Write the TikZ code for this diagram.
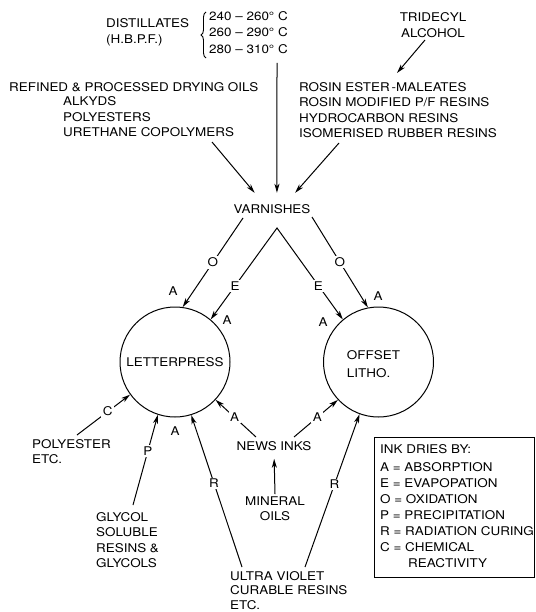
\documentclass[tikz,border=0pt]{standalone}
\usepackage{fontspec}
\setmainfont[FakeStretch=1.12]{TeX Gyre Heros}
\usetikzlibrary{arrows.meta,decorations.pathreplacing}

\begin{document}
\begin{tikzpicture}[x=1pt,y=-1pt,
  every node/.style={font=\fontsize{12}{15.5}\selectfont, inner sep=2pt},
  txt/.style={align=left, anchor=west},
  ctxt/.style={align=center},
  arr/.style={line width=1pt, -{Stealth[length=9pt,width=5pt,inset=2.5pt]}},
  twoarr/.style={line width=1pt, line join=miter, {Stealth[length=9pt,width=5pt,inset=2.5pt]}-{Stealth[length=9pt,width=5pt,inset=2.5pt]}},
  onl/.style={fill=white, inner sep=1.5pt},
  press/.style={circle, draw, line width=1pt, minimum size=110pt, inner sep=0pt},
  tag/.style={inner sep=0pt},
]
\useasboundingbox (0,0) rectangle (535,612);

% --- raw materials at the top
\node[txt] (dist) at (104,32.5) {DISTILLATES\\(H.B.P.F.)};
\draw[decorate, decoration={brace, amplitude=5pt}, line width=0.9pt] (206,58) -- (206,12);
\node[txt, font=\fontsize{12}{16.5}\selectfont] (temps) at (207,32.5)
  {240 – 260° C\\260 – 290° C\\280 – 310° C};
\node[ctxt, font=\fontsize{12}{16}\selectfont] (tri) at (433,25) {TRIDECYL\\ALCOHOL};
\node[txt] (oils) at (7,87) {REFINED \& PROCESSED DRYING OILS};
\node[txt] (alk) at (61,117) {ALKYDS\\POLYESTERS\\URETHANE COPOLYMERS};
\node[txt] (rosin) at (297,110) {ROSIN ESTER\,-MALEATES\\ROSIN MODIFIED P/F RESINS\\HYDROCARBON RESINS\\ISOMERISED RUBBER RESINS};

% --- varnishes and the two printing processes
\node[ctxt, minimum height=32pt] (varn) at (272,209) {VARNISHES};
\node[press] (lp) at (175,362) {LETTERPRESS};
\node[press] (ol) at (378.5,362) {};
\node[align=left, font=\fontsize{12}{18}\selectfont] (oltxt) at (373.5,364) {OFFSET\\LITHO.};

% --- sources below the circles
\node[txt] (poly) at (30,451.5) {POLYESTER\\ETC.};
\node[txt] (glycol) at (94,540) {GLYCOL\\SOLUBLE\\RESINS \&\\GLYCOLS};
\node[ctxt] (news) at (274,446) {NEWS INKS};
\node[ctxt] (min) at (275,508.5) {MINERAL\\OILS};
\node[txt, font=\fontsize{12}{14.5}\selectfont] (uv) at (228,590.5) {ULTRA VIOLET\\CURABLE RESINS\\ETC.};

% --- key
\node[draw, line width=1pt, anchor=north west, minimum width=160pt, minimum height=140pt] (key) at (374,437) {};
\node[txt, font=\fontsize{12}{16}\selectfont] (keytxt) at (378,506.5)
  {INK DRIES BY:\\[2pt]
   A = ABSORPTION\\
   E = EVAPOPATION\\
   O = OXIDATION\\
   P = PRECIPITATION\\
   R = RADIATION CURING\\
   C = CHEMICAL\\
   \hspace*{28pt}REACTIVITY};

% --- loose ends of the connectors
\coordinate (distfoot) at (277,63);
\coordinate (oilsfoot) at (212,142);
\coordinate (rosinfoot) at (339,143);
\coordinate (trifoot) at (425,40);
\coordinate (rosinhead) at (397,73);
\coordinate (oL) at (243,218);
\coordinate (apex) at (277,228);
\coordinate (oR) at (312,217);
\coordinate (polyfoot) at (77,435);
\coordinate (glyfoot) at (133,505);
\coordinate (uvL) at (242,567);
\coordinate (uvR) at (305,567);
\coordinate (newsL) at (256,437);
\coordinate (newsR) at (294,437);

% --- feeds into varnishes
\draw[arr] (distfoot) -- (varn.73);
\draw[arr] (oilsfoot) -- (varn.137);
\draw[arr] (rosinfoot) -- (varn.35);
\draw[arr] (trifoot) -- (rosinhead);

% --- varnishes to the processes
\draw[arr] (oL) -- node[onl, pos=0.5] {O} (lp.82);
\draw[twoarr] (lp.50) -- node[onl, pos=0.37] {E} (apex) -- node[onl, pos=0.63] {E} (ol.130);
\draw[arr] (oR) -- node[onl, pos=0.5] {O} (ol.101);

% --- lower feeds
\draw[arr] (polyfoot) -- node[onl, pos=0.58] {C} (lp.216);
\draw[arr] (glyfoot) -- node[onl, pos=0.6] {P} (lp.252);
\draw[arr] (uvL) -- node[onl, pos=0.55] {R} (lp.287);
\draw[arr] (uvR) -- node[onl, pos=0.54] {R} (ol.250);
\draw[arr] (newsL) -- node[onl, pos=0.53] {A} (lp.317);
\draw[arr] (newsR) -- node[onl, pos=0.53] {A} (ol.223);
\draw[arr, shorten >=6pt] (min.north) -- (news.south);

% --- absorption marks round the circles
\node[tag] (a1) at (173,291) {A};
\node[tag] (a2) at (227,320) {A};
\node[tag] (a3) at (323,322) {A};
\node[tag] (a4) at (378,296) {A};
\node[tag] (a5) at (175,431) {A};
\end{tikzpicture}
\end{document}
